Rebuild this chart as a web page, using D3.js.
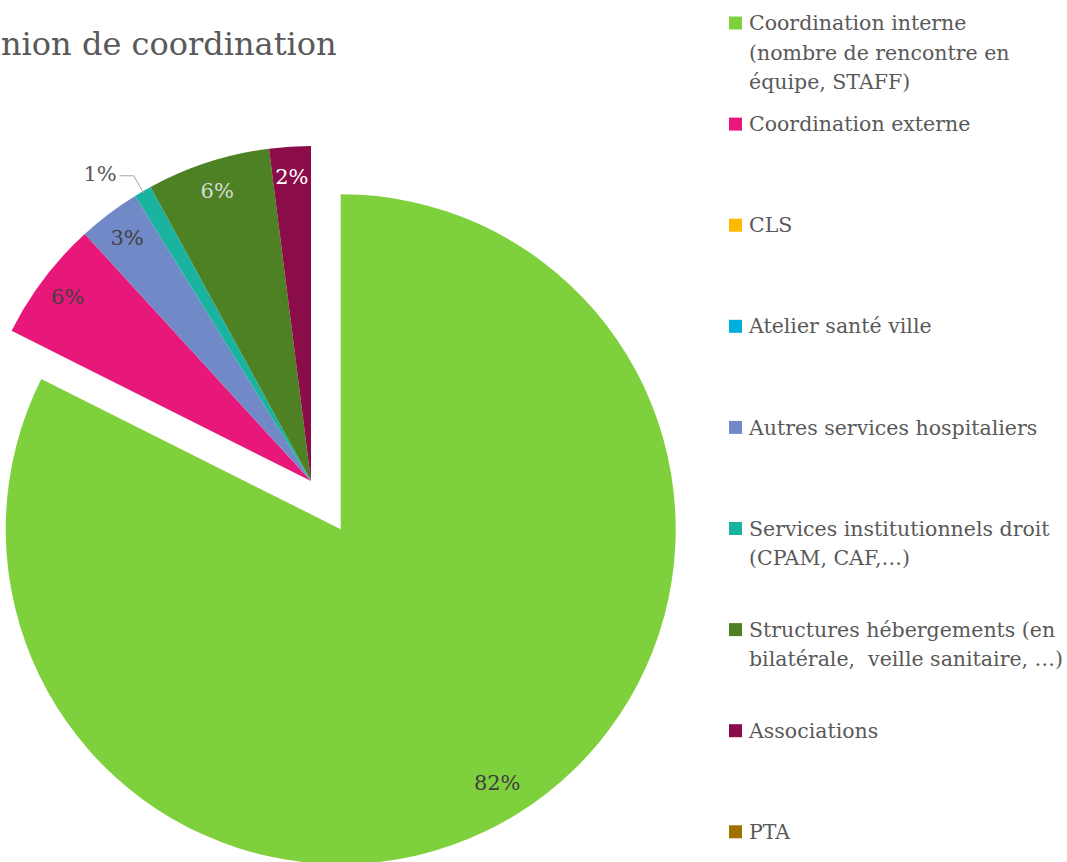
<!DOCTYPE html>
<html><head><meta charset="utf-8">
<script src="https://cdn.jsdelivr.net/npm/d3@7"></script>
<style>
html,body{margin:0;padding:0;background:#fff;overflow:hidden;}
text{font-family:"Palatino Linotype","Book Antiqua",Palatino,"DejaVu Serif",serif;white-space:pre;}
</style></head>
<body>
<svg id="c" width="1067" height="862"></svg>
<script>
const title = "Réunion de coordination";
const categories = [
  "Coordination interne (nombre de rencontre en équipe, STAFF)",
  "Coordination externe",
  "CLS",
  "Atelier santé ville",
  "Autres services hospitaliers",
  "Services institutionnels droit (CPAM, CAF,…)",
  "Structures hébergements (en bilatérale,  veille sanitaire, …)",
  "Associations",
  "PTA"
];
const legendLines = [
  ["Coordination interne", "(nombre de rencontre en", "équipe, STAFF)"],
  ["Coordination externe"],
  ["CLS"],
  ["Atelier santé ville"],
  ["Autres services hospitaliers"],
  ["Services institutionnels droit", "(CPAM, CAF,…)"],
  ["Structures hébergements (en", "bilatérale,  veille sanitaire, …)"],
  ["Associations"],
  ["PTA"]
];
const values = [82.4, 5.8, 0, 0, 3.0, 0.85, 5.95, 2.0, 0];
const colors = ["#7ED13C","#E8177A","#FDB900","#00AEDB","#7189C6","#1AB3A0","#4E8123","#8A0C49","#A07000"];
const labelColors = ["#404040","#404040","#404040","#404040","#404040","#595959","#D9D9D9","#FFFFFF","#404040"];

const svg = d3.select("#c");
const cx = 311, cy = 481, R = 335, explode = 56.6;

// title (cut at the left edge as in the reference)
const t = svg.append("text").attr("y", 55).attr("fill","#595959").attr("font-size", 32).text(title);
// place so that the "nion de coordination" part starts at the left edge
const tmp = svg.append("text").attr("font-size", 32).attr("opacity",0).text("Réu");
const preW = tmp.node().getComputedTextLength(); tmp.remove();
t.attr("x", 1 - preW);

const total = d3.sum(values);
const pie = d3.pie().sort(null).value(d => d)(values);
const arc = d3.arc().innerRadius(0).outerRadius(R);
const g = svg.append("g").attr("transform", `translate(${cx},${cy})`);

pie.forEach((p, i) => {
  if (p.value === 0) return;
  const mid = (p.startAngle + p.endAngle) / 2;
  const off = i === 0 ? explode : 0;
  const ox = Math.sin(mid) * off, oy = -Math.cos(mid) * off;
  g.append("path").attr("d", arc(p)).attr("fill", colors[i])
    .attr("transform", `translate(${ox},${oy})`);
});

// labels
pie.forEach((p, i) => {
  if (p.value === 0) return;
  const mid = (p.startAngle + p.endAngle) / 2;
  const pct = Math.round(p.value / total * 100) + "%";
  const off = i === 0 ? explode : 0;
  if (i === 5) {
    const ex = Math.sin(mid) * (R - 2), ey = -Math.cos(mid) * (R - 2);
    const lx = Math.sin(mid) * (R + 18), ly = -Math.cos(mid) * (R + 18);
    g.append("polyline").attr("points", `${ex},${ey} ${lx},${ly} ${lx-14},${ly}`)
      .attr("fill","none").attr("stroke","#A6A6A6").attr("stroke-width",1);
    g.append("text").attr("x", lx - 17).attr("y", ly - 2).attr("dy","0.35em")
      .attr("text-anchor","end").attr("fill", labelColors[i]).attr("font-size", 21).text(pct);
    return;
  }
  const rl = i === 0 ? 298 : 305;
  const x = Math.sin(mid) * rl + Math.sin(mid) * off;
  const y = -Math.cos(mid) * rl - Math.cos(mid) * off;
  g.append("text").attr("x", x).attr("y", y).attr("dy","0.35em")
    .attr("text-anchor","middle").attr("fill", labelColors[i]).attr("font-size", 21).text(pct);
});

// legend
const lg = svg.append("g");
const y0 = 23, step = 101.1, lh = 29.5;
categories.forEach((c, i) => {
  const yc = y0 + i * step;
  lg.append("rect").attr("x", 729).attr("y", yc - 6.5).attr("width", 13).attr("height", 13).attr("fill", colors[i]);
  legendLines[i].forEach((ln, j) => {
    lg.append("text").attr("x", 749).attr("y", yc + j * lh).attr("dy","0.35em")
      .attr("fill","#595959").attr("font-size", 20.5).text(ln);
  });
});
</script>
</body></html>
